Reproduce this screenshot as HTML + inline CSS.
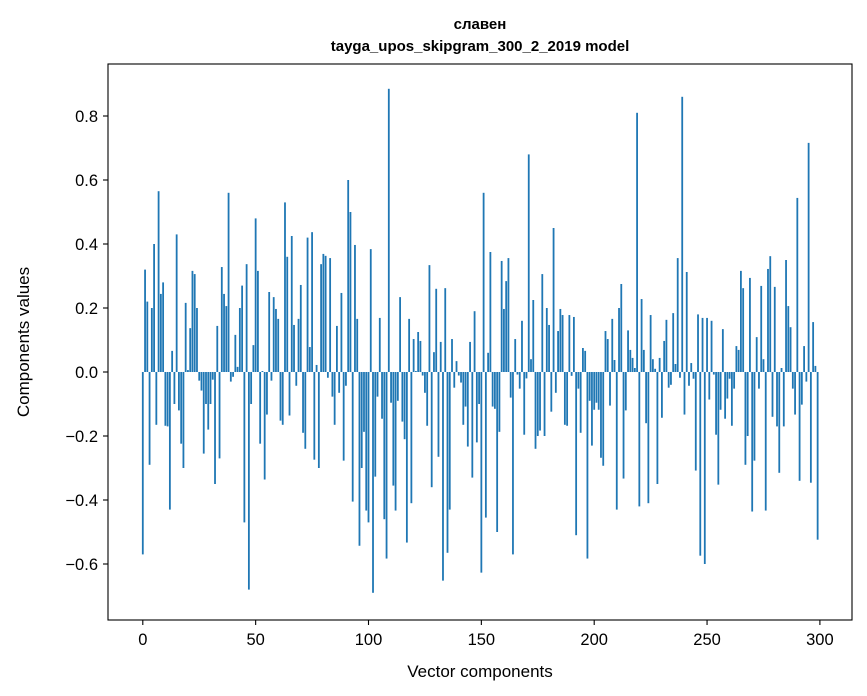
<!DOCTYPE html>
<html><head><meta charset="utf-8"><style>
html,body{margin:0;padding:0;background:#fff;}
svg{display:block;font-family:"Liberation Sans","DejaVu Sans",sans-serif;}
</style></head><body>
<svg id="s" width="867" height="696" viewBox="0 0 867 696" xmlns="http://www.w3.org/2000/svg">
<rect width="867" height="696" fill="#fff"/>
<g id="bars" fill="#1f77b4"></g>
<rect x="108" y="64" width="744" height="556" fill="none" stroke="#000" stroke-width="1.1"/>
<g id="ticks" stroke="#000" stroke-width="1.1"></g>
<g id="labels" font-size="16.5" fill="#000"></g>
<text x="480" y="29" font-size="15" font-weight="bold" text-anchor="middle">славен</text>
<text x="480" y="51" font-size="15" font-weight="bold" text-anchor="middle">tayga_upos_skipgram_300_2_2019 model</text>
<text x="480" y="677" font-size="17" text-anchor="middle">Vector components</text>
<text x="29" y="342" font-size="17" text-anchor="middle" transform="rotate(-90 29 342)">Components values</text>
</svg>
<script>
var v=[-0.57,0.32,0.22,-0.29,0.2,0.4,-0.165,0.565,0.244,0.28,-0.168,-0.17,-0.43,0.066,-0.1,0.43,-0.12,-0.224,-0.3,0.216,0.006,0.137,0.316,0.306,0.2,-0.027,-0.058,-0.255,-0.1,-0.18,-0.1,-0.024,-0.35,0.144,-0.27,0.328,0.244,0.206,0.56,-0.03,-0.015,0.116,0.016,0.2,0.27,-0.47,0.337,-0.68,-0.1,0.084,0.48,
0.316,-0.224,0.003,-0.336,-0.133,0.25,-0.027,0.234,0.197,0.166,-0.152,-0.165,0.53,0.36,-0.136,0.425,0.147,-0.043,0.166,0.272,-0.19,-0.24,0.42,0.078,0.437,-0.274,0.022,-0.3,0.337,0.369,0.363,-0.018,0.356,-0.077,-0.165,0.144,-0.065,0.247,-0.277,-0.043,0.6,0.5,-0.405,0.397,0.166,-0.543,-0.3,-0.187,-0.433,-0.47,0.384,
-0.69,-0.327,-0.077,0.169,-0.146,-0.46,-0.583,0.885,-0.096,-0.355,-0.433,-0.09,0.234,-0.155,-0.21,-0.533,0.166,-0.41,0.103,0.003,0.125,0.097,-0.011,-0.065,-0.168,0.334,-0.36,0.062,0.26,-0.265,0.094,-0.652,0.262,-0.565,-0.43,0.103,-0.049,0.034,-0.011,-0.033,-0.165,-0.108,-0.233,0.094,-0.33,0.19,-0.22,-0.1,-0.627,0.56,
-0.455,0.06,0.375,-0.108,-0.115,-0.5,-0.187,0.347,0.197,0.284,0.356,-0.08,-0.57,0.103,-0.008,-0.052,0.16,-0.196,-0.02,0.68,0.04,0.225,-0.24,-0.2,-0.183,0.306,-0.2,0.2,0.147,-0.124,0.45,-0.065,0.128,0.197,0.178,-0.165,-0.168,0.178,-0.012,0.172,-0.51,-0.052,-0.19,0.075,0.066,-0.583,-0.09,-0.23,-0.118,-0.096,-0.118,
-0.268,-0.293,0.128,0.103,-0.105,0.166,0.0375,-0.43,0.2,0.275,-0.333,-0.12,0.13,0.069,0.044,0.0125,0.81,-0.42,0.228,0.069,-0.16,-0.41,0.178,0.04,0.01,-0.35,0.044,-0.143,0.097,0.163,-0.049,-0.04,0.184,0.025,0.356,-0.018,0.86,-0.133,0.3125,-0.043,0.028,-0.021,-0.308,0.18,-0.574,0.169,-0.6,0.169,-0.086,0.16,-0.008,
-0.196,-0.352,-0.118,0.134,-0.146,-0.083,-0.021,-0.168,-0.052,0.081,0.069,0.316,0.262,-0.29,-0.2,0.294,-0.436,-0.277,0.109,-0.052,0.269,0.04,-0.433,0.322,0.362,-0.14,0.266,-0.17,-0.315,0.0125,-0.17,0.35,0.206,0.14,-0.052,-0.133,0.544,-0.34,-0.102,0.081,-0.03,0.716,-0.346,0.156,0.019,-0.524];
var NS="http://www.w3.org/2000/svg";
function X(i){return 142.8+2.257*i;}
function Y(val){return 372-320*val;}
var g=document.getElementById('bars'),h='';
for(var i=0;i<v.length;i++){
 var y0=Y(0),y1=Y(v[i]);
 h+='<rect x="'+(X(i)-0.9).toFixed(2)+'" y="'+Math.min(y0,y1).toFixed(2)+'" width="1.8" height="'+Math.abs(y1-y0).toFixed(2)+'"/>';
}
g.innerHTML=h;
var t='',l='';
for(var k=0;k<=300;k+=50){var x=X(k);t+='<line x1="'+x+'" y1="620" x2="'+x+'" y2="625"/>';l+='<text x="'+x+'" y="645" text-anchor="middle">'+k+'</text>';}
var ys=[-0.6,-0.4,-0.2,0,0.2,0.4,0.6,0.8];
for(var j=0;j<ys.length;j++){var y=Y(ys[j]);t+='<line x1="103" y1="'+y+'" x2="108" y2="'+y+'"/>';var s=ys[j].toFixed(1);if(ys[j]<0)s='\u2212'+(-ys[j]).toFixed(1);l+='<text x="98" y="'+(y+6)+'" text-anchor="end">'+s+'</text>';}
document.getElementById('ticks').innerHTML=t;
document.getElementById('labels').innerHTML=l;
</script>
</body></html>
